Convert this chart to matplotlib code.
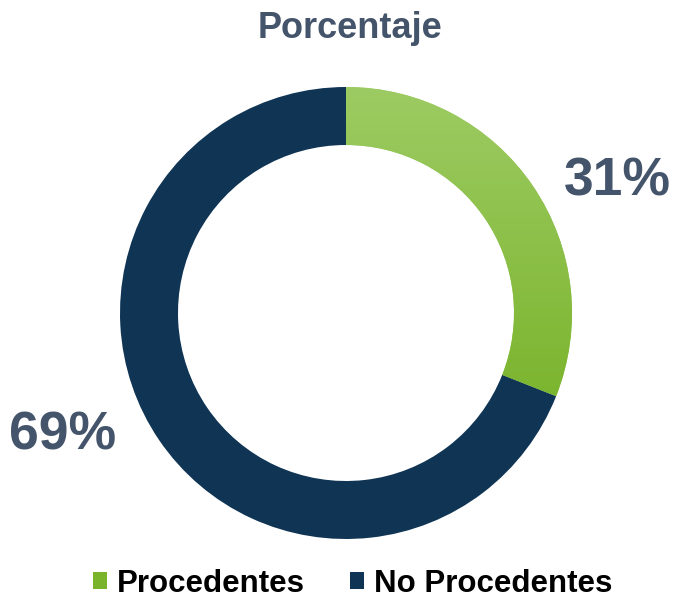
import matplotlib
matplotlib.use('Agg')
import matplotlib.pyplot as plt
import numpy as np
from matplotlib.patches import Patch

# Data
labels = ['Procedentes', 'No Procedentes']
values = [31, 69]
value_labels = ['31%', '69%']

green_top = '#9DCB63'
green_bottom = '#7AB42C'
navy = '#0F3454'
slate = '#44546A'

plt.rcParams['font.family'] = ['Liberation Sans', 'DejaVu Sans']

fig = plt.figure(figsize=(6.74, 6.0), dpi=100)
ax = fig.add_axes([0, 0, 1, 1])

# Donut, pixel coordinates with y up
cx, cy, R = 346, 600 - 313, 226
wedges, _ = ax.pie(values, colors=[green_top, navy], startangle=90, counterclock=False,
                   center=(cx, cy), radius=R, frame=True,
                   wedgeprops=dict(width=58, linewidth=0))

# Vertical gradient on the green segment
grad = np.linspace(0, 1, 256).reshape(-1, 1)
cmap = matplotlib.colors.LinearSegmentedColormap.from_list('g', [green_bottom, green_top])
im = ax.imshow(grad, cmap=cmap, origin='lower', aspect='auto', zorder=3,
               extent=[cx - R, cx + R, cy - R * 0.45, cy + R])
im.set_clip_path(wedges[0])

ax.set_xlim(0, 674)
ax.set_ylim(0, 600)
ax.set_aspect('equal')
ax.axis('off')

# Percentage labels
ax.text(617, 600 - 181, value_labels[0], ha='center', va='center',
        fontsize=38.5, fontweight='bold', color=slate)
ax.text(63, 600 - 436, value_labels[1], ha='center', va='center',
        fontsize=38.5, fontweight='bold', color=slate)

ax.text(350, 600 - 28, 'Porcentaje', ha='center', va='center',
        fontsize=26, fontweight='bold', color=slate)

# Legend
handles = [Patch(facecolor=green_bottom, label=labels[0]),
           Patch(facecolor=navy, label=labels[1])]
fig.legend(handles=handles, loc='center', bbox_to_anchor=(0.523, 0.027), ncol=2,
           frameon=False, prop=dict(size=22.5, weight='bold'),
           handlelength=0.45, handleheight=0.45, handletextpad=0.32,
           columnspacing=1.45)

fig.savefig('out.png', dpi=100)
